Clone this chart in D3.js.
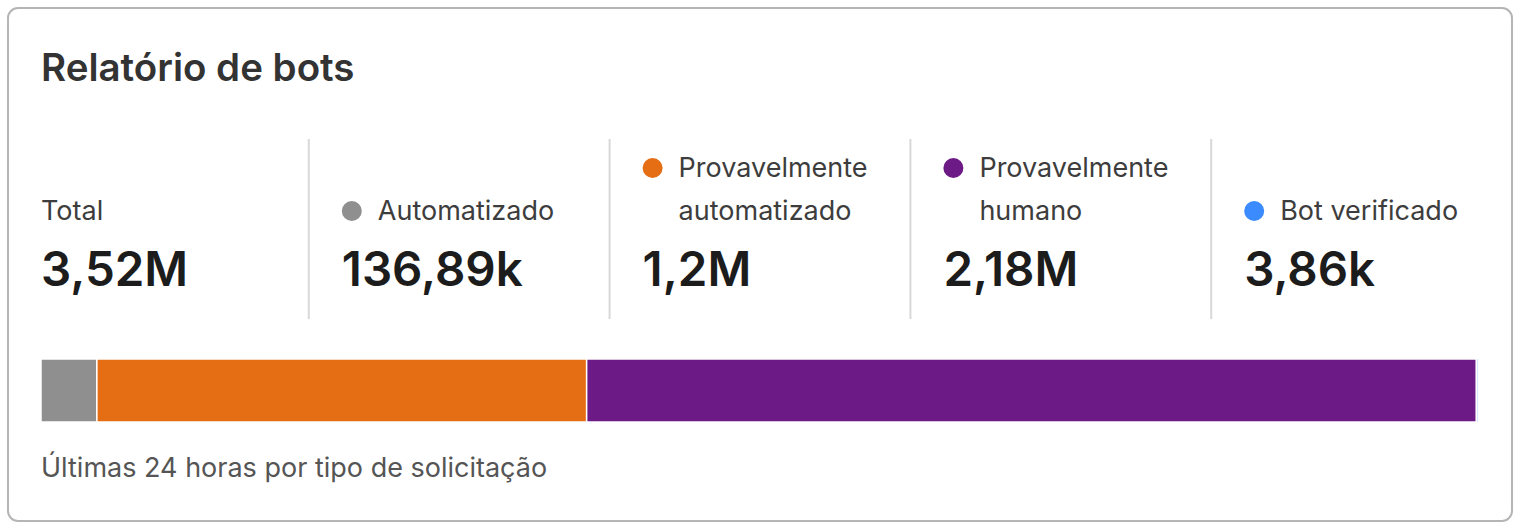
<!DOCTYPE html>
<html>
<head>
<meta charset="utf-8">
<script src="https://cdn.jsdelivr.net/npm/d3@7"></script>
<style>
  html, body { margin: 0; padding: 0; background: #ffffff; }
  svg { display: block; font-family: Inter, "Noto Sans", sans-serif; }
</style>
</head>
<body>
<svg id="chart" width="1521" height="530"></svg>
<script>
const title = "Relatório de bots";
const footnote = "Últimas 24 horas por tipo de solicitação";
const totalLabel = "Total";
const totalValue = "3,52M";
const categories = ["Automatizado", "Provavelmente automatizado", "Provavelmente humano", "Bot verificado"];
const labelLines = [["Automatizado"], ["Provavelmente", "automatizado"], ["Provavelmente", "humano"], ["Bot verificado"]];
const displayValues = ["136,89k", "1,2M", "2,18M", "3,86k"];
const values = [136890, 1200000, 2180000, 3860];
const colors = ["#8f8f8f", "#e56d13", "#6b1a86", "#3b8bff"];

const svg = d3.select("#chart");

// card
svg.append("rect")
  .attr("x", 8).attr("y", 8)
  .attr("width", 1504).attr("height", 513)
  .attr("rx", 10).attr("ry", 10)
  .attr("fill", "#ffffff")
  .attr("stroke", "#b5b5b5")
  .attr("stroke-width", 2);

svg.append("text")
  .attr("x", 41).attr("y", 81)
  .attr("font-size", 38.5)
  .attr("font-weight", 600)
  .attr("fill", "#333333")
  .text(title);

// columns
const colX = d3.scaleBand().domain(d3.range(5)).range([7, 1511]);
const textColor = "#3d3d3d";
const labelSize = 27;
const valueSize = 47.5;

// Total column
svg.append("text").attr("x", 41).attr("y", 220)
  .attr("font-size", labelSize).attr("fill", textColor).text(totalLabel);
svg.append("text").attr("x", 41).attr("y", 286)
  .attr("font-size", valueSize).attr("font-weight", 600).attr("fill", "#1c1c1c").text(totalValue);

categories.forEach((c, i) => {
  const x0 = colX(i + 1);
  // divider
  svg.append("line")
    .attr("x1", x0 + 1).attr("x2", x0 + 1)
    .attr("y1", 139).attr("y2", 319)
    .attr("stroke", "#d8d8d8").attr("stroke-width", 2);
  const cx = x0 + 44;
  const lines = labelLines[i];
  const firstY = lines.length === 1 ? 220 : 177;
  svg.append("circle")
    .attr("cx", cx).attr("cy", firstY - 9)
    .attr("r", 10).attr("fill", colors[i]);
  lines.forEach((l, j) => {
    svg.append("text").attr("x", x0 + 70).attr("y", firstY + j * 43)
      .attr("font-size", labelSize).attr("fill", textColor).text(l);
  });
  svg.append("text").attr("x", x0 + 34).attr("y", 286)
    .attr("font-size", valueSize).attr("font-weight", 600).attr("fill", "#1c1c1c").text(displayValues[i]);
});

// stacked bar
const total = d3.sum(values);
const xBar = d3.scaleLinear().domain([0, total]).range([41, 1478]);
const starts = d3.cumsum([0, ...values]);
svg.append("g").selectAll("rect")
  .data(values)
  .join("rect")
  .attr("x", (d, i) => xBar(starts[i]))
  .attr("y", 359)
  .attr("width", d => xBar(d) - xBar(0))
  .attr("height", 63)
  .attr("fill", (d, i) => colors[i])
  .attr("stroke", "#ffffff")
  .attr("stroke-width", 1.5);

svg.append("text")
  .attr("x", 41).attr("y", 477)
  .attr("font-size", labelSize)
  .attr("fill", "#555555")
  .text(footnote);
</script>
</body>
</html>
